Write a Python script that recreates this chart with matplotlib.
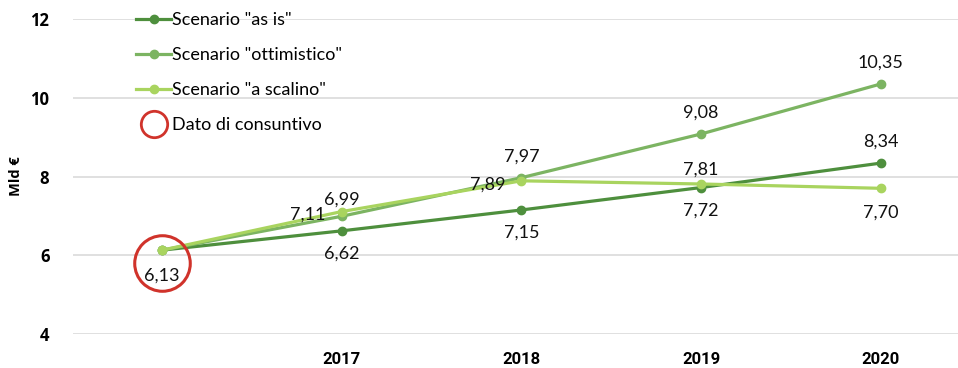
import matplotlib.pyplot as plt
from matplotlib.lines import Line2D

years = ['2016', '2017', '2018', '2019', '2020']
year_labels = ['', '2017', '2018', '2019', '2020']
y_ticks = [4, 6, 8, 10, 12]
as_is = [6.13, 6.62, 7.15, 7.72, 8.34]
ottimistico = [6.13, 6.99, 7.97, 9.08, 10.35]
scalino = [6.13, 7.11, 7.89, 7.81, 7.70]
consuntivo = 6.13

plt.rcParams['font.family'] = ['Lato', 'DejaVu Sans']

c_asis = '#4e8f3d'
c_otti = '#7cb462'
c_scal = '#a9d45f'
c_red = '#d0332b'

fig = plt.figure(figsize=(9.58, 3.68), dpi=100)
ax = fig.add_axes([73 / 958, 1 - 334 / 368, 1 - 73 / 958, (334 - 19) / 368])

x = list(range(len(years)))
ax.plot(x, as_is, color=c_asis, lw=2.3, marker='o', ms=6, zorder=3)
ax.plot(x, ottimistico, color=c_otti, lw=2.3, marker='o', ms=6, zorder=4)
ax.plot(x, scalino, color=c_scal, lw=2.3, marker='o', ms=6, zorder=5)

# red circle round the actual value
ax.plot([0], [consuntivo - 0.33], marker='o', ms=40, mfc='none', mec=c_red, mew=2.2, zorder=6)

def fmt(v):
    return ('%.2f' % v).replace('.', ',')

kw = dict(ha='center', va='center', fontsize=13, color='#111111', zorder=7)
# "as is" labels
for i, v in enumerate(as_is):
    if i == 0:
        continue
    dy = 21 if i == 4 else -23
    ax.annotate(fmt(v), (i, v), xytext=(0, dy * 0.72), textcoords='offset points', **kw)
# ottimistico labels
for i, v in enumerate(ottimistico):
    if i == 0:
        continue
    dy = 17 if i == 1 else 21
    ax.annotate(fmt(v), (i, v), xytext=(0, dy * 0.72), textcoords='offset points', **kw)
# scalino labels
scal_off = [None, (-34, -3), (-34, -4), (0, 14), (0, -24)]
for i, v in enumerate(scalino):
    if scal_off[i] is None:
        continue
    dx, dy = scal_off[i]
    ax.annotate(fmt(v), (i, v), xytext=(dx * 0.72, dy * 0.72), textcoords='offset points', **kw)
ax.annotate(fmt(consuntivo), (0, consuntivo), xytext=(0, -25 * 0.72), textcoords='offset points', **kw)

ax.set_xlim(-0.496, 4.43)
ax.set_ylim(4, 12)
ax.set_yticks(y_ticks)
ax.set_yticklabels([str(t) for t in y_ticks], fontsize=12, fontweight='bold',
                   family=['Open Sans', 'DejaVu Sans'])
ax.set_xticks(x)
ax.set_xticklabels(year_labels, fontsize=12, fontweight='bold', family=['Roboto', 'DejaVu Sans'])
ax.tick_params(axis='x', length=0, pad=13)
ax.tick_params(axis='y', length=0, pad=17)
ax.grid(axis='y', color='#dddddd', lw=1.3)
ax.set_axisbelow(True)
for s in ax.spines.values():
    s.set_visible(False)
ax.set_ylabel('Mld €', fontsize=10.5, fontweight='bold', family=['Open Sans', 'DejaVu Sans'], labelpad=5)

handles = [
    Line2D([], [], color=c_asis, lw=2.3, marker='o', ms=6),
    Line2D([], [], color=c_otti, lw=2.3, marker='o', ms=6),
    Line2D([], [], color=c_scal, lw=2.3, marker='o', ms=6),
    Line2D([], [], color='none', marker='o', ms=19, mfc='none', mec=c_red, mew=2),
]
labels = ['Scenario "as is"', 'Scenario "ottimistico"', 'Scenario "a scalino"', 'Dato di consuntivo']
fig.legend(handles, labels, loc='upper left', bbox_to_anchor=(136 / 958, 1 - 12 / 368),
           frameon=False, fontsize=13, handlelength=1.95, handletextpad=0.05,
           labelspacing=1.05, borderpad=0, borderaxespad=0)

fig.savefig('out.png', dpi=100)
